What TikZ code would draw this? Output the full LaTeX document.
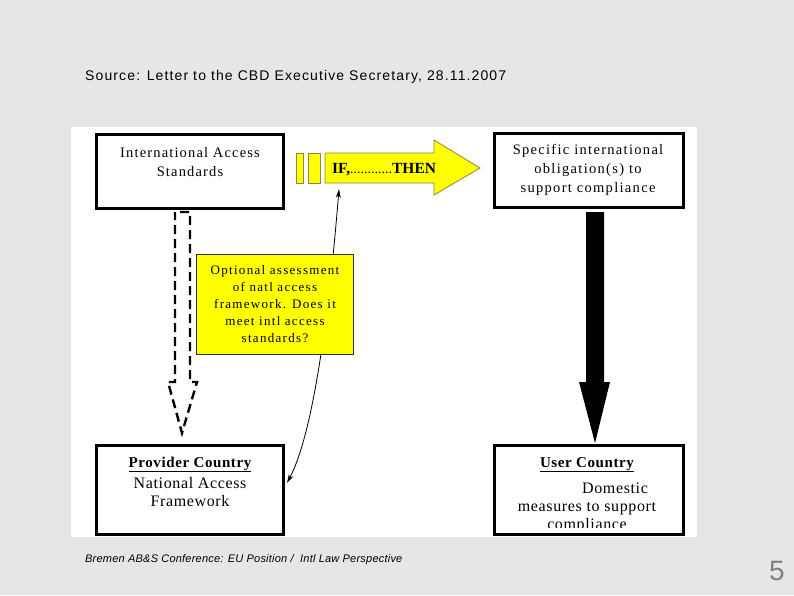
\documentclass[tikz,border=0pt]{standalone}
\usepackage{fontspec}
\setmainfont{Liberation Serif}
\newfontfamily\arial[LetterSpace=8]{Liberation Sans}
\newfontfamily\arialfoot[LetterSpace=2]{Liberation Sans}
\newfontfamily\arialn{Liberation Sans}
\newfontfamily\sera[LetterSpace=8]{Liberation Serif}
\newfontfamily\serb[LetterSpace=9]{Liberation Serif}
\newfontfamily\serc[LetterSpace=10]{Liberation Serif}
\newfontfamily\serd[LetterSpace=4]{Liberation Serif}
\usetikzlibrary{arrows.meta}
\definecolor{bg}{HTML}{E6E6E6}
\definecolor{yel}{HTML}{FFFF00}
\definecolor{yelline}{HTML}{8A8A40}
\begin{document}
\begin{tikzpicture}[x=1pt,y=-1pt,
  box/.style={draw=black,line width=3pt,fill=white,inner sep=0pt},
  btext/.style={align=center,inner sep=0pt},
  ytext/.style={font=\serc\fontsize{13}{17}\selectfont,align=center,inner sep=0pt}]
\useasboundingbox (0,0) rectangle (794,595);
\fill[bg] (0,0) rectangle (794,595);
\fill[white] (71,127) rectangle (697,537);
% header and footer
\node[anchor=base west,inner sep=0pt,font=\arial\fontsize{14}{16}\selectfont] (src) at (85,80) {Source: Letter to the CBD Executive Secretary, 28.11.2007};
\node[anchor=base west,inner sep=0pt,font=\arialfoot\itshape\fontsize{11}{13}\selectfont] (foot) at (85,562) {Bremen AB\&S Conference: EU Position /\ \ Intl Law Perspective};
\node[anchor=base,inner sep=0pt,font=\arialn\fontsize{28}{30}\selectfont,text=gray] (pg) at (777,580) {5};
% boxes
\draw[box] (96,134) rectangle (283,208);
\node[btext,font=\sera\fontsize{14.5}{19}\selectfont] (ias) at (190,162) {International Access\\Standards};
\draw[box] (494,133) rectangle (683,207);
\node[btext,font=\serb\fontsize{14.5}{19}\selectfont] (spec) at (588,170) {Specific international\\obligation(s) to\\support compliance};
\draw[box] (96,445) rectangle (283,534);
\node[btext,font=\serd\bfseries\fontsize{15}{18}\selectfont,anchor=base] (prov) at (190,467) {\underline{Provider Country}};
\node[btext,font=\serd\fontsize{16}{18.5}\selectfont,anchor=north] (naf) at (190,477) {National Access\\Framework};
\draw[box] (494,445) rectangle (683,534);
\begin{scope}
\clip (496,447) rectangle (681,527);
\node[btext,font=\serd\bfseries\fontsize{15}{18}\selectfont,anchor=base] (user) at (587,467) {\underline{User Country}};
\node[btext,font=\serd\fontsize{16}{18}\selectfont,anchor=base] (dom) at (615,493) {Domestic};
\node[btext,font=\serd\fontsize{16}{18}\selectfont,anchor=base] (meas) at (587,511) {measures to support};
\node[btext,font=\serd\fontsize{16}{18}\selectfont,anchor=base] (comp) at (587,529) {compliance};
\end{scope}
% curved double arrow (behind yellow box)
\coordinate (ifb) at (339,189);
\coordinate (prove) at (287,483);
\draw[line width=0.8pt,{Stealth[length=9pt,width=5pt]}-{Stealth[length=9pt,width=5pt]}] (ifb) .. controls (330,300) and (315,430) .. (prove);
% yellow assessment box
\draw[fill=yel,draw=black!80,line width=0.8pt] (196,254) rectangle (353,354);
\node[ytext] (opt) at (275,304) {Optional assessment\\of natl access\\framework. Does it\\meet intl access\\standards?};
% yellow arrow
\draw[fill=yel,draw=yelline,line width=0.8pt] (296,153) rectangle (303,183);
\draw[fill=yel,draw=yelline,line width=0.8pt] (308,153) rectangle (320,183);
\draw[fill=yel,draw=yelline,line width=0.8pt] (325,153) -- (434,153) -- (434,140) -- (480,168) -- (434,195) -- (434,183) -- (325,183) -- cycle;
\node[font=\bfseries\fontsize{15.5}{17}\selectfont,anchor=base west,inner sep=0pt] (ifthen) at (332,173) {IF,\hbox to 42pt{\fontsize{10}{10}\selectfont\leaders\hbox to 3.5pt{\hss.\hss}\hfill}THEN};
% black arrow
\fill[black] (586,212) -- (604,212) -- (604,382) -- (610,382) -- (595,443) -- (579,382) -- (586,382) -- cycle;
% dashed block arrow
\draw[line width=2.4pt,dash pattern=on 9pt off 5pt] (180,212) -- (190,212) -- (190,382) -- (197,382) -- (182,433) -- (168,382) -- (175,382) -- (175,212);
\end{tikzpicture}
\end{document}
